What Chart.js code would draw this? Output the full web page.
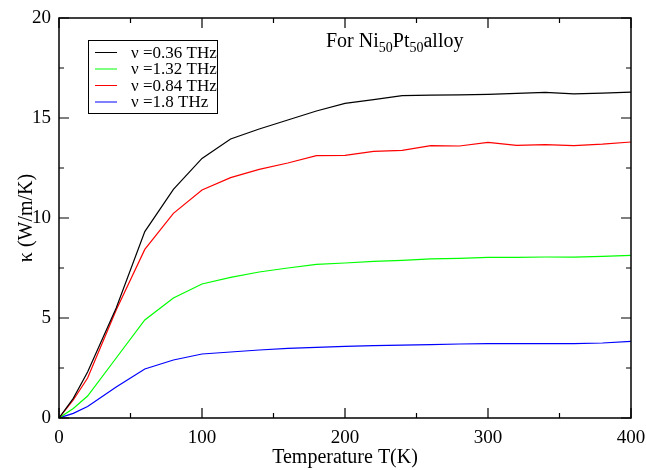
<!DOCTYPE html>
<html>
<head>
<meta charset="utf-8">
<script src="https://cdn.jsdelivr.net/npm/chart.js@4.4.1/dist/chart.umd.min.js"></script>
<style>
  html, body { margin: 0; padding: 0; background: #fff; }
  #wrap { width: 646px; height: 470px; }
</style>
</head>
<body>
<div id="wrap"><canvas id="kappaChart" width="646" height="470"></canvas></div>
<script>
// temperature grid (K)
const temps = [0, 10, 20, 40, 60, 80, 100, 120, 140, 160, 180, 200, 220, 240, 260, 280, 300, 320, 340, 360, 380, 400];

// thermal conductivity (W/m/K) for each phonon frequency
const kappa036 = [0, 0.98, 2.3, 5.5, 9.32, 11.43, 12.98, 13.95, 14.45, 14.9, 15.35, 15.73, 15.92, 16.12, 16.14, 16.16, 16.18, 16.23, 16.28, 16.21, 16.24, 16.29];
const kappa132 = [0, 0.48, 1.1, 3.0, 4.9, 6.0, 6.7, 7.03, 7.3, 7.5, 7.68, 7.75, 7.83, 7.88, 7.96, 7.98, 8.03, 8.03, 8.05, 8.04, 8.08, 8.13];
const kappa084 = [0, 0.9, 2.0, 5.4, 8.43, 10.23, 11.4, 12.02, 12.43, 12.75, 13.12, 13.13, 13.33, 13.38, 13.62, 13.6, 13.78, 13.63, 13.67, 13.62, 13.69, 13.8];
const kappa18 = [0, 0.23, 0.57, 1.55, 2.45, 2.9, 3.2, 3.3, 3.4, 3.48, 3.53, 3.58, 3.62, 3.64, 3.67, 3.7, 3.72, 3.72, 3.72, 3.72, 3.75, 3.83];

const seriesLabels = ['ν =0.36 THz', 'ν =1.32 THz', 'ν =0.84 THz', 'ν =1.8 THz'];
const seriesColors = ['#000000', '#00ff00', '#ff0000', '#0000ff'];
const seriesData = [kappa036, kappa132, kappa084, kappa18];

const xTicks = [0, 100, 200, 300, 400];
const yTicks = [0, 5, 10, 15, 20];

const serif = "'Liberation Serif', 'DejaVu Serif', serif";

function toPoints(ys) {
    return temps.map((t, i) => ({ x: t, y: ys[i] }));
}

// frame with inward ticks on all four sides, legend box and the alloy label
const decorations = {
    id: 'decorations',
    afterDraw(chart) {
        const c = chart.ctx;
        const a = chart.chartArea;
        const xs = chart.scales.x, ys = chart.scales.y;
        c.save();
        c.strokeStyle = '#000';
        c.lineWidth = 1.5;
        c.strokeRect(a.left, a.top, a.right - a.left, a.bottom - a.top);

        c.lineWidth = 1.2;
        c.beginPath();
        for (let t = 0; t <= 400; t += 50) {
            const px = xs.getPixelForValue(t);
            const len = t % 100 === 0 ? 10 : 5;
            c.moveTo(px, a.bottom); c.lineTo(px, a.bottom - len);
            c.moveTo(px, a.top); c.lineTo(px, a.top + len);
        }
        for (let k = 0; k <= 20; k += 2.5) {
            const py = ys.getPixelForValue(k);
            const len = k % 5 === 0 ? 10 : 5;
            c.moveTo(a.left, py); c.lineTo(a.left + len, py);
            c.moveTo(a.right, py); c.lineTo(a.right - len, py);
        }
        c.stroke();

        // legend
        c.lineWidth = 1;
        c.strokeRect(88.5, 40.5, 129, 73);
        c.font = '17px ' + serif;
        c.fillStyle = '#000';
        c.textBaseline = 'middle';
        c.textAlign = 'left';
        seriesLabels.forEach((lab, i) => {
            const y = 52.5 + i * 16.5;
            c.strokeStyle = seriesColors[i];
            c.beginPath();
            c.moveTo(95, y); c.lineTo(117, y);
            c.stroke();
            c.fillText(lab, 131, y + 1);
        });

        // "For Ni50Pt50alloy"
        const parts = [['For Ni', false], ['50', true], ['Pt', false], ['50', true], ['alloy', false]];
        let x = 326;
        c.textBaseline = 'alphabetic';
        parts.forEach(([txt, sub]) => {
            c.font = (sub ? '14px ' : '20px ') + serif;
            c.fillText(txt, x, sub ? 52 : 47);
            x += c.measureText(txt).width;
        });
        c.restore();
    }
};

const ctx = document.getElementById('kappaChart').getContext('2d');
new Chart(ctx, {
    type: 'line',
    data: {
        datasets: seriesData.map((d, i) => ({
            label: seriesLabels[i],
            data: toPoints(d),
            borderColor: seriesColors[i],
            borderWidth: 1.2,
            pointRadius: 0,
            tension: 0,
            fill: false
        }))
    },
    options: {
        responsive: false,
        animation: false,
        layout: { padding: { top: 18, right: 15, left: 0, bottom: 0 } },
        plugins: { legend: { display: false }, tooltip: { enabled: false } },
        scales: {
            x: {
                type: 'linear',
                min: 0, max: 400,
                afterBuildTicks: s => { s.ticks = xTicks.map(v => ({ value: v })); },
                afterFit: s => { s.height = 52; s.paddingLeft = 0; s.paddingRight = 0; },
                grid: { display: false, drawTicks: false },
                border: { display: false },
                ticks: { color: '#000', padding: 9, maxRotation: 0, font: { family: serif, size: 19 } },
                title: { display: true, text: 'Temperature T(K)', color: '#000', padding: { top: 0, bottom: 0 }, font: { family: serif, size: 20 } }
            },
            y: {
                min: 0, max: 20,
                afterBuildTicks: s => { s.ticks = yTicks.map(v => ({ value: v })); },
                afterFit: s => { s.width = 59; s.paddingTop = 0; s.paddingBottom = 0; },
                grid: { display: false, drawTicks: false },
                border: { display: false },
                ticks: { color: '#000', padding: 8, font: { family: serif, size: 19 } },
                title: { display: true, text: 'κ (W/m/K)', color: '#000', padding: { top: 15, bottom: 0 }, font: { family: serif, size: 20 } }
            }
        }
    },
    plugins: [decorations]
});
</script>
</body>
</html>
